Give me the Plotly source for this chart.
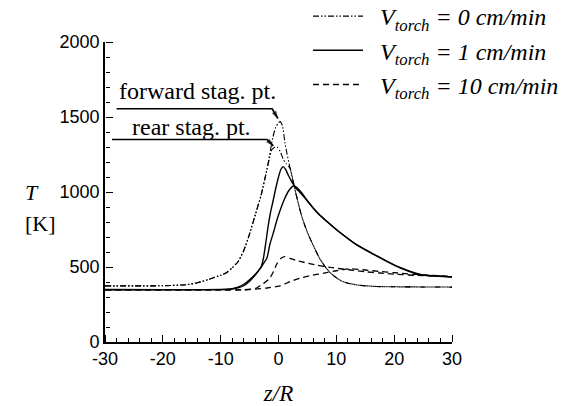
import plotly.graph_objects as go

# ---------------- data ----------------
# V_torch = 0 cm/min (dash-dot)
z_v0_fwd = [-30, -20, -16, -14, -12, -10, -9, -8, -7, -6, -5, -4, -3, -2, -1, -0.5, 0, 0.3,
            0.7, 1.1, 1.5, 2, 3, 4, 5, 6, 7, 8, 9, 10, 11, 12, 14, 17, 20, 25, 30]
T_v0_fwd = [374, 375, 382, 395, 418, 445, 462, 495, 535, 610, 720, 850, 980, 1150, 1360, 1430, 1462, 1469,
            1440, 1330, 1250, 1160, 990, 840, 730, 645, 565, 505, 460, 428, 405, 392, 378, 370, 368, 367, 366]
z_v0_rear = [-30, -20, -16, -14, -12, -10, -9, -8, -7, -6, -5, -4, -3, -2, -1.5, -1.2, -0.6, -0.2,
             0.3, 0.8, 1.3, 2, 3, 4, 5, 6, 7, 8, 9, 10, 11, 12, 14, 17, 20, 25, 30]
T_v0_rear = [374, 375, 382, 395, 418, 445, 462, 495, 535, 610, 720, 850, 980, 1150, 1235, 1280, 1300, 1298,
             1270, 1220, 1190, 1158, 990, 840, 730, 645, 565, 505, 460, 428, 405, 392, 378, 370, 368, 367, 366]

# V_torch = 1 cm/min (solid)
z_v1_fwd = [-30, -20, -10, -8, -7, -6, -5, -4, -3, -2.6, -2.2, -1.8, -1.4, -1, -0.5, 0, 0.4, 0.8, 1.2,
            1.7, 2.3, 3, 4, 5, 6, 7, 8, 9.5, 11, 13.5, 16, 18.7, 21, 23.6, 25, 27, 30]
T_v1_fwd = [350, 349, 350, 356, 366, 385, 415, 452, 500, 560, 660, 770, 860, 930, 1020, 1100, 1150, 1169, 1152,
            1112, 1068, 1027, 985, 940, 892, 850, 815, 765, 718, 647, 593, 538, 495, 458, 446, 440, 433]
z_v1_rear = [-30, -20, -10, -8, -6, -5, -4, -3, -2, -1.5, -0.8, -0.3, 0.3, 1, 1.8, 2.6, 3.2,
             4, 5, 6, 7, 8, 9.5, 11, 13.5, 16, 18.7, 21, 23.6, 25, 27, 30]
T_v1_rear = [348, 348, 349, 353, 375, 405, 448, 500, 560, 650, 740, 810, 880, 950, 1010, 1040, 1030,
             995, 942, 894, 852, 817, 767, 720, 649, 595, 540, 497, 460, 447, 441, 434]

# V_torch = 10 cm/min (dashed)
z_v10_fwd = [-30, -10, -6, -4.5, -3.8, -3, -2.2, -1.5, -1, -0.3, 0.5, 1.1, 2, 3, 4.5, 6.6, 9, 12.4,
             15, 17.6, 20, 25, 30]
T_v10_fwd = [348, 347, 348, 353, 360, 380, 402, 425, 460, 520, 560, 569, 558, 545, 530, 513, 497, 480,
             468, 460, 452, 442, 435]
z_v10_rear = [-30, -10, -6, -4, -2, 0, 0.8, 2, 3.7, 5.5, 7.7, 10, 12.4, 15, 17.6, 20, 25, 30]
T_v10_rear = [348, 347, 348, 352, 360, 372, 382, 403, 425, 442, 458, 475, 488, 480, 470, 462, 447, 437]

legend_names = ["V<sub>torch</sub> = 0 cm/min",
                "V<sub>torch</sub> = 1 cm/min",
                "V<sub>torch</sub> = 10 cm/min"]

x_ticks = [-30, -20, -10, 0, 10, 20, 30]
x_tick_text = ["-30", "-20", "-10", "0", "10", "20", "30"]
x_major, x_minor = 10, 2
y_ticks = [0, 500, 1000, 1500, 2000]
y_major, y_minor = 500, 100

# annotation leader geometry (data units): horizontal rule under label, bent to an arrow tip
fwd_label = ("forward stag. pt.", -14.0, 1675)
fwd_leader_x = [-28.0, -1.1, -0.1]
fwd_leader_y = [1555, 1555, 1490]
rear_label = ("rear stag. pt.", -15.0, 1435)
rear_leader_x = [-28.8, -2.0, -0.9]
rear_leader_y = [1350, 1350, 1308]

# ---------------- figure ----------------
DASHDOT = "6px,2px,1.5px,2px,1.5px,2px"
DASH = "6px,4px"

fig = go.Figure()

series = [
    (z_v0_fwd, T_v0_fwd, DASHDOT, 1.1, legend_names[0], True),
    (z_v0_rear, T_v0_rear, DASHDOT, 1.1, legend_names[0], False),
    (z_v1_fwd, T_v1_fwd, "solid", 1.4, legend_names[1], True),
    (z_v1_rear, T_v1_rear, "solid", 1.4, legend_names[1], False),
    (z_v10_fwd, T_v10_fwd, DASH, 1.3, legend_names[2], True),
    (z_v10_rear, T_v10_rear, DASH, 1.3, legend_names[2], False),
]
for zs, ts, dash, w, name, show in series:
    fig.add_trace(go.Scatter(
        x=zs, y=ts, mode="lines", name="&nbsp;&nbsp;" + name, legendgroup=name, showlegend=show,
        line=dict(color="black", width=w, dash=dash, shape="spline", smoothing=0.5),
        hoverinfo="skip",
    ))

# invisible copy on the overlay axes (which carry the inward-pointing ticks)
fig.add_trace(go.Scatter(x=z_v0_fwd, y=T_v0_fwd, xaxis="x2", yaxis="y2", mode="lines",
                         line=dict(color="rgba(0,0,0,0)"), showlegend=False, hoverinfo="skip"))

# leader lines with arrow tips
for lx, ly in [(fwd_leader_x, fwd_leader_y), (rear_leader_x, rear_leader_y)]:
    fig.add_trace(go.Scatter(
        x=lx, y=ly, mode="lines+markers", showlegend=False, hoverinfo="skip",
        line=dict(color="black", width=1.7),
        marker=dict(symbol="arrow", angleref="previous", size=[0, 0, 8], color="black",
                    line=dict(width=0)),
    ))

for txt, tx, ty in [fwd_label, rear_label]:
    fig.add_annotation(x=tx, y=ty, xref="x", yref="y", text=txt, showarrow=False,
                       font=dict(family="Liberation Serif", size=24, color="black"))

# y-axis title as two lines (T italic, [K] upright)
fig.add_annotation(x=0, y=1000, xref="paper", yref="y", xshift=-82, text="<i>T</i>",
                   showarrow=False, font=dict(family="Liberation Serif", size=22, color="black"))
fig.add_annotation(x=0, y=790, xref="paper", yref="y", xshift=-82, text="[K]",
                   showarrow=False, font=dict(family="Liberation Serif", size=22, color="black"))

axis_common = dict(showline=True, linecolor="black", linewidth=1.6, showgrid=False, zeroline=False,
                   ticks="", tickfont=dict(family="Liberation Sans", size=18, color="black"),
                   automargin=False)

fig.update_layout(
    xaxis=dict(range=[x_ticks[0], x_ticks[-1]], tickmode="array", tickvals=x_ticks, ticktext=x_tick_text,
               title=dict(text="<i>z/R</i>", font=dict(family="Liberation Serif", size=23, color="black"),
                          standoff=18),
               **axis_common),
    yaxis=dict(range=[y_ticks[0], y_ticks[-1]], tickmode="array", tickvals=y_ticks, **axis_common),
    # overlay axes: their "outside" ticks point into the plot area
    xaxis2=dict(overlaying="x", side="top", anchor="free", position=0,
                range=[x_ticks[0], x_ticks[-1]], tickmode="linear", tick0=x_ticks[0], dtick=x_major,
                ticks="outside", ticklen=7, tickwidth=1.4, tickcolor="black",
                showticklabels=False, showline=False, showgrid=False, zeroline=False,
                minor=dict(ticks="outside", ticklen=4, tickwidth=1.1, tickcolor="black",
                           tick0=x_ticks[0], dtick=x_minor, showgrid=False)),
    yaxis2=dict(overlaying="y", side="right", anchor="free", position=0,
                range=[y_ticks[0], y_ticks[-1]], tickmode="linear", tick0=0, dtick=y_major,
                ticks="outside", ticklen=7, tickwidth=1.4, tickcolor="black",
                showticklabels=False, showline=False, showgrid=False, zeroline=False,
                minor=dict(ticks="outside", ticklen=4, tickwidth=1.1, tickcolor="black",
                           tick0=0, dtick=y_minor, showgrid=False)),
    width=570, height=406,
    margin=dict(l=105, r=118, t=42, b=64, autoexpand=False),
    paper_bgcolor="white", plot_bgcolor="white",
    showlegend=True,
    legend=dict(x=0.585, y=1.16, xanchor="left", yanchor="top", bgcolor="rgba(0,0,0,0)",
                font=dict(family="Liberation Serif", size=24, color="black", style="italic"),
                itemwidth=50, tracegroupgap=0, borderwidth=0),
)

fig.write_html("out.html")
